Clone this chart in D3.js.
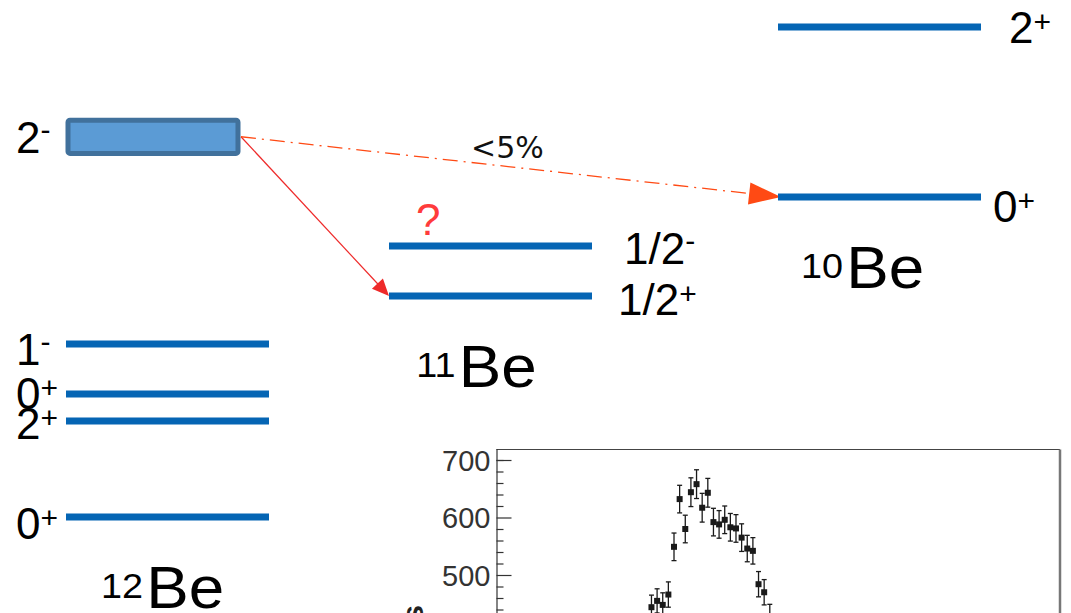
<!DOCTYPE html>
<html><head><meta charset="utf-8">
<script src="https://cdn.jsdelivr.net/npm/d3@7"></script>
<style>html,body{margin:0;padding:0;background:#fff;} svg{display:block;}</style>
</head><body>
<svg id="c" width="1071" height="613"></svg>
<script>
// ---------------- DATA ----------------
const nuclei = ["12Be", "11Be", "10Be"];
const nucleusMass = ["12", "11", "10"];
const nucleusSymbol = ["Be", "Be", "Be"];

// levels (schematic energy units)
const levelNucleus = ["12Be", "12Be", "12Be", "12Be", "12Be", "11Be", "11Be", "10Be", "10Be"];
const levelSpin    = ["0", "2", "0", "1", "2", "1/2", "1/2", "0", "2"];
const levelParity  = ["+", "+", "+", "-", "-", "+", "-", "+", "+"];
const levelEnergy  = [0, 1.96, 2.51, 3.53, 7.76, 4.51, 5.53, 6.53, 10.0];
const levelWidth   = [0, 0, 0, 0, 0.76, 0, 0, 0, 0];
const levelQuery   = ["", "", "", "", "", "", "?", "", ""];

// transitions
const transFrom  = [4, 4];
const transTo    = [5, 7];
const transLabel = ["", "<5%"];
const transStyle = ["solid", "dashdot"];

// histogram inset
const bins   = [27.5, 28.5, 29.5, 30.5, 31.5, 32.5, 33.5, 34.5, 35.5, 36.5, 37.5,
                38.5, 39.5, 40.5, 41.5, 42.5, 43.5, 44.5, 45.5, 46.5, 47.5, 48.5];
const counts = [444, 455, 448, 466, 549, 632, 580, 644, 658, 617, 643,
                592, 588, 596, 583, 581, 565, 546, 542, 484, 470, 428];
const errors = [21, 21, 21, 22, 24, 24, 24, 25, 25, 25, 25,
                24, 24, 24, 24, 24, 24, 23, 23, 22, 22, 21];
const yMajorTicks = [500, 600, 700];
const yMinorTicks = [420, 440, 460, 480, 520, 540, 560, 580, 620, 640, 660, 680, 700];
const yTitle = "Counts";

// ---------------- LAYOUT ----------------
const svg = d3.select("#c");
const blue = "#0565b4";
const F = "'Liberation Sans', Arial, sans-serif";

const yLevel = d3.scaleLinear().domain([0, 10]).range([517, 27]);
const colX = d3.scaleOrdinal().domain(nuclei).range([66, 389, 778]);
const lineLen = 203, boxLen = 174;

const levels = levelEnergy.map((e, i) => ({
  i, nuc: levelNucleus[i], spin: levelSpin[i], par: levelParity[i],
  e, w: levelWidth[i], q: levelQuery[i]
}));

// label tweaks (layout only)
const labelDy = [22, 18, 15, 21, 16, 19, 18, 25, 16];
const labelDx = [0, 0, 0, 0, 0, 26, 32, 12, 28];
const nameDx = [-5, -14, -17];

// transitions (behind levels)
const tg = svg.append("g");
transFrom.forEach((f, k) => {
  const a = levels[f], b = levels[transTo[k]];
  const x0 = colX(a.nuc) + boxLen + 1, y0 = yLevel(a.e);
  const dashed = transStyle[k] === "dashdot";
  const x1 = colX(b.nuc) + (dashed ? 3 : 0), y1 = yLevel(b.e);
  const col = dashed ? "#ff4a14" : "#ee2a2a";
  const hl = dashed ? 32 : 17, hw = dashed ? 11 : 7.5;
  const dx = x1 - x0, dy = y1 - y0, L = Math.hypot(dx, dy);
  const ux = dx / L, uy = dy / L;
  const bx = x1 - ux * hl, by = y1 - uy * hl;
  tg.append("line").attr("x1", x0).attr("y1", y0).attr("x2", bx + ux * 2).attr("y2", by + uy * 2)
    .attr("stroke", col).attr("stroke-width", dashed ? 1.3 : 1.2)
    .attr("stroke-dasharray", dashed ? "15,6,2,6" : null);
  tg.append("polygon")
    .attr("points", [[x1, y1], [bx - uy * hw, by + ux * hw], [bx + uy * hw, by - ux * hw]].map(p => p.join(",")).join(" "))
    .attr("fill", col);
  if (transLabel[k]) {
    tg.append("text").attr("x", 471).attr("y", 158)
      .attr("font-family", "'DejaVu Sans', sans-serif").attr("font-size", 30)
      .attr("fill", "#111").text(transLabel[k]);
  }
});

// levels
const lg = svg.append("g");
levels.forEach(d => {
  const x = colX(d.nuc), y = yLevel(d.e);
  if (d.w > 0) {
    const h = yLevel(d.e - d.w / 2) - yLevel(d.e + d.w / 2);
    lg.append("rect").attr("x", x + 2).attr("y", y - h / 2 + 2).attr("width", boxLen - 4).attr("height", h - 4)
      .attr("rx", 2).attr("fill", "#5b9bd5").attr("stroke", "#41719c").attr("stroke-width", 5);
  } else {
    lg.append("line").attr("x1", x).attr("x2", x + lineLen).attr("y1", y).attr("y2", y)
      .attr("stroke", blue).attr("stroke-width", 7);
  }
  const left = d.nuc === "12Be";
  const tx = left ? 16 : x + lineLen + labelDx[d.i];
  const t = lg.append("text").attr("x", tx).attr("y", y + labelDy[d.i])
    .attr("font-family", F).attr("font-size", 44).attr("fill", "#000");
  t.append("tspan").text(d.spin);
  t.append("tspan").attr("font-size", 30).attr("dy", d.par === "-" ? -13 : -11).text(d.par);
  if (d.q) {
    lg.append("text").attr("x", x + 27).attr("y", y - 11)
      .attr("font-family", F).attr("font-size", 44).attr("fill", "#ff3b3b").text(d.q);
  }
});

// nucleus names
nuclei.forEach((n, k) => {
  const low = d3.min(levels.filter(d => d.nuc === n), d => d.e);
  const cx = colX(n) + lineLen / 2 + nameDx[k], by = yLevel(low) + 91;
  const t = svg.append("g").attr("transform", `translate(${cx},${by}) scale(1.08,1)`)
    .append("text").attr("x", 0).attr("y", 0)
    .attr("text-anchor", "middle").attr("font-family", F).attr("fill", "#000");
  t.append("tspan").attr("font-size", 35).attr("dy", -10).text(nucleusMass[k]);
  t.append("tspan").attr("font-size", 59).attr("dy", 10).attr("dx", 3).text(nucleusSymbol[k]);
});

// ---------------- HISTOGRAM ----------------
const hx = d3.scaleLinear().domain([0, 100]).range([496.5, 1060]);
const hy = d3.scaleLinear().domain([400, 720]).range([632.5, 448.5]);
const hg = svg.append("g");
hg.append("line").attr("x1", hx(0)).attr("x2", hx(100)).attr("y1", hy(718.3)).attr("y2", hy(718.3))
  .attr("stroke", "#444").attr("stroke-width", 1.2);
hg.append("line").attr("x1", hx(100)).attr("x2", hx(100)).attr("y1", hy(718.3)).attr("y2", 640)
  .attr("stroke", "#777").attr("stroke-width", 2.5);

const ax = hg.append("g").attr("transform", `translate(${hx(0)},0)`)
  .call(d3.axisLeft(hy).tickValues(yMajorTicks).tickSizeInner(-15).tickSizeOuter(0).tickPadding(6));
ax.select(".domain").attr("stroke", "#333").attr("stroke-width", 1.2);
ax.selectAll(".tick line").attr("stroke", "#333").attr("stroke-width", 1.2);
ax.selectAll(".tick text").attr("font-family", F).attr("font-size", 29).attr("fill", "#333").attr("dy", "0.36em");
const axm = hg.append("g").attr("transform", `translate(${hx(0)},0)`)
  .call(d3.axisLeft(hy).tickValues(yMinorTicks).tickSizeInner(-7).tickSizeOuter(0).tickFormat(""));
axm.select(".domain").remove();
axm.selectAll(".tick line").attr("stroke", "#333").attr("stroke-width", 1.2);

hg.append("text").attr("transform", `translate(423,605) rotate(-90)`).attr("text-anchor", "end")
  .attr("font-family", F).attr("font-size", 30).attr("font-weight", "bold").attr("fill", "#222").text(yTitle);

const pts = hg.append("g");
bins.forEach((b, i) => {
  const x = hx(b), y = hy(counts[i]), yt = hy(counts[i] + errors[i]), yb = hy(counts[i] - errors[i]);
  pts.append("line").attr("x1", x).attr("x2", x).attr("y1", yt).attr("y2", yb).attr("stroke", "#1a1a1a").attr("stroke-width", 1.3);
  [yt, yb].forEach(yy => pts.append("line").attr("x1", x - 2.5).attr("x2", x + 2.5).attr("y1", yy).attr("y2", yy)
    .attr("stroke", "#1a1a1a").attr("stroke-width", 1.3));
  pts.append("rect").attr("x", x - 3).attr("y", y - 3).attr("width", 6).attr("height", 6).attr("fill", "#1a1a1a");
});
</script>
</body></html>
